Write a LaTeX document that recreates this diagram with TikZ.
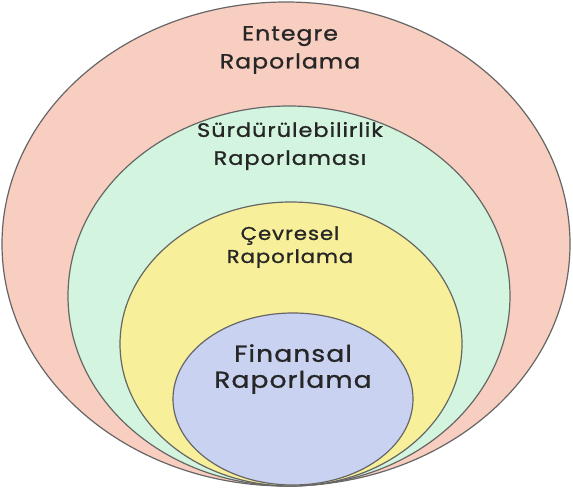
\documentclass[tikz,border=0pt]{standalone}
\usepackage{fontspec}
\setmainfont{Poppins}
\newfontfamily\lblfont{Poppins}[FakeStretch=1.15, LetterSpace=5, FakeBold=1]
\begin{document}
\begin{tikzpicture}[x=1pt,y=-1pt,
  ring/.style={draw=black!60, line width=1.2pt},
  lbl/.style={text=black!85, align=center, inner sep=0pt}]
\useasboundingbox (0,0) rectangle (573,490);
\fill[white] (0,0) rectangle (573,490);
\definecolor{cpink}{HTML}{F8CEC0}
\definecolor{cgreen}{HTML}{D3F5DF}
\definecolor{cyellow}{HTML}{F7EF99}
\definecolor{cblue}{HTML}{C9D2F1}
\draw[ring, fill=cpink] (286,244) ellipse [x radius=284, y radius=242];
\draw[ring, fill=cgreen] (289,296) ellipse [x radius=221, y radius=190];
\draw[ring, fill=cyellow] (291,344) ellipse [x radius=171, y radius=142];
\draw[ring, fill=cblue] (293,399) ellipse [x radius=120, y radius=86];
\node[lbl, font={\lblfont\fontsize{20.5}{28}\selectfont}] (e) at (290,50) {Entegre\\Raporlama};
\node[lbl, font={\lblfont\fontsize{19.5}{28}\selectfont}] (s) at (290,146) {Sürdürülebilirlik\\Raporlaması};
\node[lbl, font={\lblfont\fontsize{18.5}{23}\selectfont}] (c) at (290,247) {Çevresel\\Raporlama};
\node[lbl, font={\lblfont\fontsize{23}{26}\selectfont}] (f) at (293,369) {Finansal\\Raporlama};
\end{tikzpicture}
\end{document}
